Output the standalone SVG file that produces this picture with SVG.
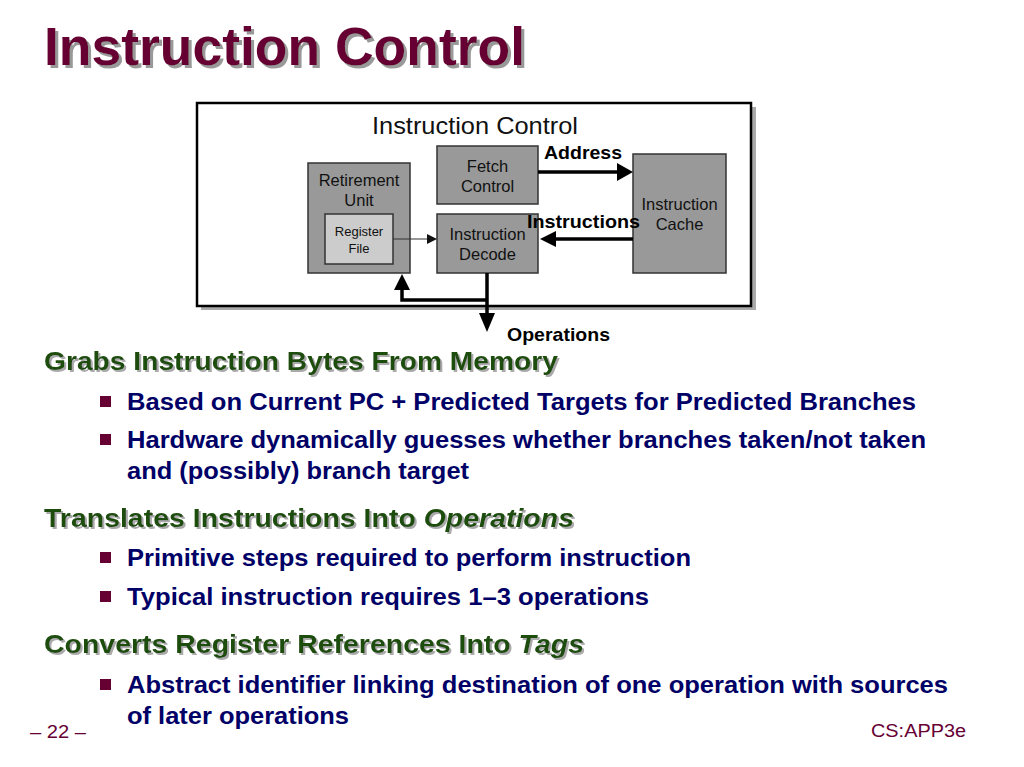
<svg xmlns="http://www.w3.org/2000/svg" width="1024" height="767" viewBox="0 0 1024 767">
<defs>
<filter id="sh3" x="-5%" y="-20%" width="110%" height="150%">
<feFlood flood-color="#999999" result="c"/>
<feComposite in="c" in2="SourceAlpha" operator="in" result="s"/>
<feOffset in="s" dx="3" dy="3" result="o"/>
<feMerge><feMergeNode in="o"/><feMergeNode in="SourceGraphic"/></feMerge>
</filter>
<filter id="sh2" x="-5%" y="-20%" width="110%" height="150%">
<feFlood flood-color="#aaaaaa" result="c"/>
<feComposite in="c" in2="SourceAlpha" operator="in" result="s"/>
<feOffset in="s" dx="2" dy="2" result="o"/>
<feMerge><feMergeNode in="o"/><feMergeNode in="SourceGraphic"/></feMerge>
</filter>
</defs>
<style>
.title{font-family:"Liberation Sans",Arial,sans-serif;font-weight:bold;font-size:54px;fill:#660033}
.head{font-family:"Liberation Sans",Arial,sans-serif;font-weight:bold;font-size:26px;fill:#1f4d0f}
.bul{font-family:"Liberation Sans",Arial,sans-serif;font-weight:bold;font-size:23px;fill:#000066}
.lbl{font-family:"Liberation Sans",Arial,sans-serif;font-size:16.5px;fill:#111;text-anchor:middle}
.small{font-family:"Liberation Sans",Arial,sans-serif;font-size:13px;fill:#111;text-anchor:middle}
.blbl{font-family:"Liberation Sans",Arial,sans-serif;font-weight:bold;font-size:19px;fill:#000}
.box{fill:#999999;stroke:#333;stroke-width:1.5}
.foot{font-family:"Liberation Sans",Arial,sans-serif;font-size:18px;fill:#660033}
.sq{fill:#660033}
.thick{stroke:#000;stroke-width:3.5;fill:none}
</style>
<rect width="1024" height="767" fill="#fff"/>
<g id="title">
<text class="title" x="44" y="65" filter="url(#sh3)" textLength="481" lengthAdjust="spacingAndGlyphs">Instruction Control</text>
</g>
<g id="frame">
<rect x="201" y="107" width="555" height="203" fill="#aaa"/>
<rect x="197" y="103" width="554" height="203" fill="#fff" stroke="#000" stroke-width="2.5"/>
<text x="372" y="134" font-family="Liberation Sans, Arial, sans-serif" font-size="24" fill="#111" textLength="206" lengthAdjust="spacingAndGlyphs">Instruction Control</text>
</g>
<g id="retirement">
<rect class="box" x="308" y="163" width="102" height="110"/>
<text class="lbl" x="359" y="186">Retirement</text>
<text class="lbl" x="359" y="206">Unit</text>
</g>
<g id="regfile">
<rect x="325" y="214" width="68" height="50" fill="#cccccc" stroke="#333" stroke-width="1.5"/>
<text class="small" x="359" y="236">Register</text>
<text class="small" x="359" y="253">File</text>
</g>
<g id="fetch">
<rect class="box" x="437" y="146" width="101" height="58"/>
<text class="lbl" x="487.5" y="172">Fetch</text>
<text class="lbl" x="487.5" y="192">Control</text>
</g>
<g id="decode">
<rect class="box" x="437" y="214" width="101" height="59"/>
<text class="lbl" x="487.5" y="240">Instruction</text>
<text class="lbl" x="487.5" y="260">Decode</text>
</g>
<g id="cache">
<rect class="box" x="633" y="154" width="93" height="119"/>
<text class="lbl" x="679.5" y="210">Instruction</text>
<text class="lbl" x="679.5" y="230">Cache</text>
</g>
<g id="connectors">
<line x1="393" y1="239" x2="428" y2="239" stroke="#333" stroke-width="1.2"/>
<polygon points="427,234 437,239 427,244" fill="#111"/>
<line class="thick" x1="538" y1="172" x2="618" y2="172"/>
<polygon points="617,163 633,172 617,181" fill="#000"/>
<line class="thick" x1="633" y1="239" x2="554" y2="239"/>
<polygon points="540,239 556,231 556,247" fill="#000"/>
<line class="thick" x1="487" y1="273" x2="487" y2="315"/>
<polygon points="479,313 495,313 487,332" fill="#000"/>
<polyline class="thick" points="487,300 402,300 402,288"/>
<polygon points="394,290 410,290 402,274" fill="#000"/>
<text class="blbl" x="544" y="159" textLength="78" lengthAdjust="spacingAndGlyphs">Address</text>
<text class="blbl" x="527" y="228" textLength="113" lengthAdjust="spacingAndGlyphs">Instructions</text>
<text class="blbl" x="507" y="341" textLength="103" lengthAdjust="spacingAndGlyphs">Operations</text>
</g>
<g id="text">
<text class="head" x="44" y="370" filter="url(#sh2)" textLength="514" lengthAdjust="spacingAndGlyphs">Grabs Instruction Bytes From Memory</text>
<rect class="sq" x="100" y="396" width="11" height="11"/>
<text class="bul" x="127" y="410" textLength="789" lengthAdjust="spacingAndGlyphs">Based on Current PC + Predicted Targets for Predicted Branches</text>
<rect class="sq" x="100" y="434" width="11" height="11"/>
<text class="bul" x="127" y="448" textLength="799" lengthAdjust="spacingAndGlyphs">Hardware dynamically guesses whether branches taken/not taken</text>
<text class="bul" x="127" y="479" textLength="342" lengthAdjust="spacingAndGlyphs">and (possibly) branch target</text>
<text class="head" x="44" y="527" filter="url(#sh2)" textLength="530" lengthAdjust="spacingAndGlyphs">Translates Instructions Into <tspan font-style="italic">Operations</tspan></text>
<rect class="sq" x="100" y="552" width="11" height="11"/>
<text class="bul" x="127" y="566" textLength="564" lengthAdjust="spacingAndGlyphs">Primitive steps required to perform instruction</text>
<rect class="sq" x="100" y="591" width="11" height="11"/>
<text class="bul" x="127" y="605" textLength="522" lengthAdjust="spacingAndGlyphs">Typical instruction requires 1–3 operations</text>
<text class="head" x="44" y="653" filter="url(#sh2)" textLength="540" lengthAdjust="spacingAndGlyphs">Converts Register References Into <tspan font-style="italic">Tags</tspan></text>
<rect class="sq" x="100" y="679" width="11" height="11"/>
<text class="bul" x="127" y="693" textLength="821" lengthAdjust="spacingAndGlyphs">Abstract identifier linking destination of one operation with sources</text>
<text class="bul" x="127" y="724" textLength="222" lengthAdjust="spacingAndGlyphs">of later operations</text>
<text class="foot" x="30" y="738" textLength="56" lengthAdjust="spacingAndGlyphs">– 22 –</text>
<text class="foot" x="871" y="737" textLength="95" lengthAdjust="spacingAndGlyphs">CS:APP3e</text>
</g>
</svg>
